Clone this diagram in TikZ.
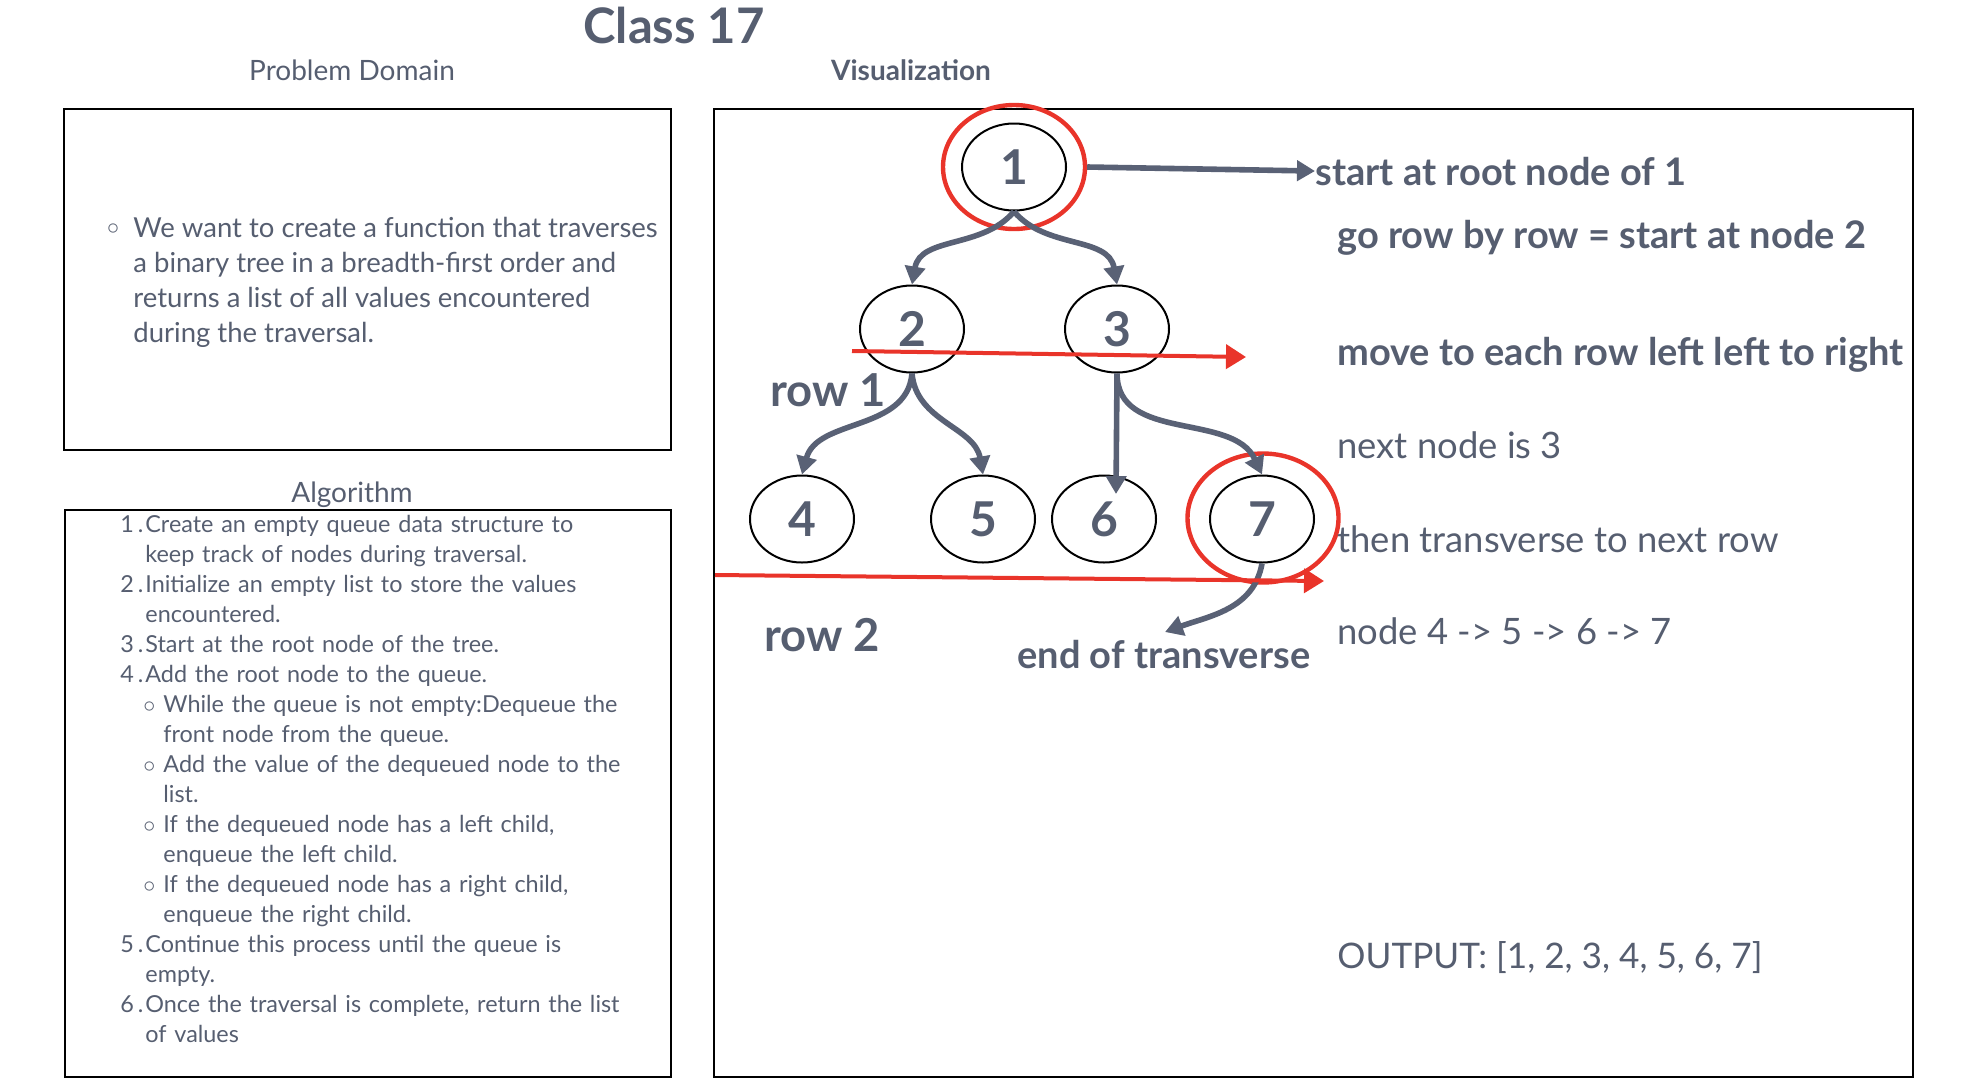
\documentclass[tikz,border=0pt]{standalone}
\usepackage{fontspec}
\setmainfont{Lato}
\usetikzlibrary{positioning,arrows.meta,shapes.geometric}
\definecolor{slateink}{RGB}{86,94,112}
\definecolor{slateedge}{RGB}{89,97,117}
\definecolor{markred}{RGB}{233,52,42}
\newcounter{algstep}

\begin{document}
\begin{tikzpicture}[x=0.5pt, y=-0.5pt,
  text=slateink,
  panel/.style={rectangle, draw=black, line width=1.3pt, inner sep=0pt},
  head/.style={inner sep=0pt, anchor=base, font=\fontsize{14}{16}\selectfont},
  tnode/.style={ellipse, draw=black, line width=1pt, minimum width=52pt,
                minimum height=43.5pt, inner sep=0pt,
                font=\fontsize{24}{24}\selectfont\bfseries},
  ring/.style={ellipse, draw=markred, line width=2.2pt, inner sep=0pt},
  edge/.style={-{Triangle[length=9pt,width=10pt]}, draw=slateedge, line width=2.8pt},
  sweep/.style={-{Triangle[length=10pt,width=12pt]}, draw=markred, line width=2pt},
  note/.style={anchor=base west, inner sep=0pt, font=\fontsize{18.2}{20}\selectfont},
  bnote/.style={note, font=\fontsize{19}{22}\selectfont\bfseries},
  rowlbl/.style={anchor=base west, inner sep=0pt, font=\fontsize{22.7}{25}\selectfont\bfseries}
]
\useasboundingbox (0,0) rectangle (1964,1088);

%% panels and headings
\node[inner sep=0pt, anchor=base, font=\fontsize{24.5}{28}\selectfont\bfseries] (title) at (674,43) {Class 17};

\node[panel, minimum width=303.5pt, minimum height=170.5pt] (pdbox) at (367.5,279.5) {};
\node[panel, minimum width=303pt, minimum height=283.5pt] (algbox) at (368,793.5) {};
\node[panel, minimum width=599.5pt, minimum height=484pt] (visbox) at (1313.5,593) {};

\node[head] (pdhead) at (352,80) {Problem Domain};
\node[head] (alghead) at (352,502) {Algorithm};
\node[head, font=\fontsize{14}{16}\selectfont\bfseries] (vishead) at (911,80) {Visualization};

%% problem domain
\node[inner sep=0pt, font=\fontsize{12}{12}\selectfont] (pdbullet) at (113,229) {$\circ$};
\node[anchor=north west, align=left, inner sep=0pt, font=\fontsize{13.75}{17.5}\selectfont] (pdtext) at (133,217)
  {We want to create a function that traverses\\a binary tree in a breadth-first order and\\returns a list of all values encountered\\during the traversal.};

%% algorithm steps
\node[anchor=north west, inner sep=0pt, text width=285pt, align=left, font=\fontsize{11.7}{15}\selectfont] (algtext) at (100,502) {%
\begin{list}{\arabic{algstep}\,.}{\usecounter{algstep}\setlength\leftmargin{22.5pt}\setlength\labelsep{1pt}%
  \setlength\labelwidth{20pt}\setlength\itemsep{0pt}\setlength\parsep{0pt}\setlength\topsep{0pt}\setlength\partopsep{0pt}}
\item Create an empty queue data structure to\newline keep track of nodes during traversal.
\item Initialize an empty list to store the values\newline encountered.
\item Start at the root node of the tree.
\item Add the root node to the queue.
  \begin{list}{$\circ$}{\setlength\leftmargin{9pt}\setlength\labelsep{4pt}\setlength\labelwidth{6pt}%
    \setlength\itemsep{0pt}\setlength\parsep{0pt}\setlength\topsep{0pt}\setlength\partopsep{0pt}}
  \item While the queue is not empty:Dequeue the\newline front node from the queue.
  \item Add the value of the dequeued node to the\newline list.
  \item If the dequeued node has a left child,\newline enqueue the left child.
  \item If the dequeued node has a right child,\newline enqueue the right child.
  \end{list}
\item Continue this process until the queue is\newline empty.
\item Once the traversal is complete, return the list\newline of values
\end{list}};

%% tree
\node[tnode] (n1) at (1014,167) {1};
\node[tnode] (n2) at (912,329) {2};
\node[tnode] (n3) at (1117,329) {3};
\node[tnode] (n4) at (802,519) {4};
\node[tnode] (n5) at (983,519) {5};
\node[tnode] (n6) at (1104,519) {6};
\node[tnode] (n7) at (1262,519) {7};

\node[ring, minimum width=71pt, minimum height=62pt] (ring1) at (n1) {};
\node[ring, minimum width=75.5pt, minimum height=64.5pt] (ring7) at (1263,518) {};

\coordinate (in6) at (1116,494);
\coordinate (endtip) at (1165,632);

\draw[edge] (n1.south) to[out=-130,in=80] (n2.north);
\draw[edge] (n1.south) to[out=-50,in=100] (n3.north);
\draw[edge] (n2.south) to[out=-95,in=75] (n4.north);
\draw[edge] (n2.south) to[out=-85,in=100] (n5.north);
\draw[edge] (n3.south) -- (in6);
\draw[edge] (n3.south) to[out=-90,in=115] (n7.north);
\draw[edge] (n7.south) to[out=-100,in=20] (endtip);

%% row sweeps
\coordinate (row1a) at (852,351);
\coordinate (row1b) at (1246,357);
\coordinate (row2a) at (715,575);
\coordinate (row2b) at (1324,581);
\draw[sweep] (row1a) -- (row1b);
\draw[sweep] (row2a) -- (row2b);

\node[rowlbl] (row1) at (770,406) {row 1};
\node[rowlbl] (row2) at (764,651) {row 2};
\node[bnote] (endlbl) at (1017,668) {end of transverse};

%% notes
\node[bnote] (note1) at (1315,185) {start at root node of 1};
\node[bnote] (note2) at (1337,248) {go row by row = start at node 2};
\node[bnote] (note3) at (1337,365) {move to each row left left to right};
\node[note] (note4) at (1337,458) {next node is 3};
\node[note] (note5) at (1337,552) {then transverse to next row};
\node[note] (note6) at (1337,644) {node 4 -> 5 -> 6 -> 7};
\node[note, font=\fontsize{17.6}{20}\selectfont] (note7) at (1337,968) {OUTPUT: [1, 2, 3, 4, 5, 6, 7]};

\draw[edge] (ring1.east) -- (note1.west);

\end{tikzpicture}
\end{document}
